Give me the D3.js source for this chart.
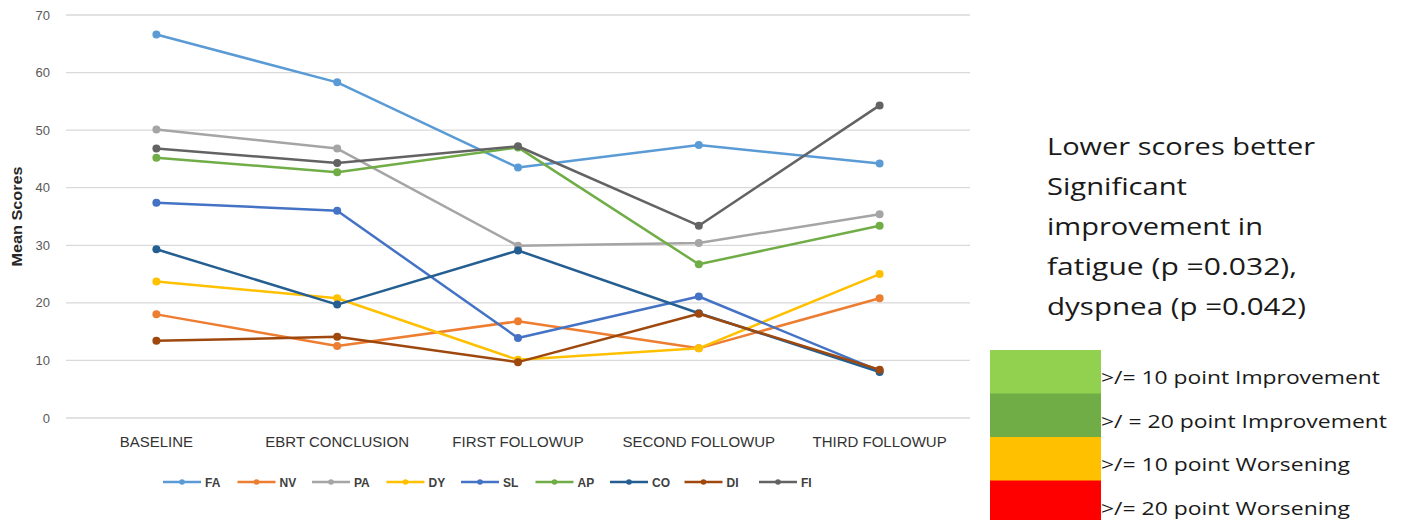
<!DOCTYPE html>
<html>
<head>
<meta charset="utf-8">
<script src="https://cdn.jsdelivr.net/npm/d3@7"></script>
<style>
  body { margin: 0; background: #fff; }
  svg { display: block; font-family: "Liberation Sans", Arial, sans-serif; }
</style>
</head>
<body>
<svg id="chart" width="1406" height="520"></svg>
<script>
const timepoints = ["BASELINE", "EBRT CONCLUSION", "FIRST FOLLOWUP", "SECOND FOLLOWUP", "THIRD FOLLOWUP"];
const seriesNames = ["FA", "NV", "PA", "DY", "SL", "AP", "CO", "DI", "FI"];
const seriesColors = ["#5B9BD5", "#ED7D31", "#A5A5A5", "#FFC000", "#4472C4", "#70AD47", "#255E91", "#9E480E", "#636363"];

const FA = [66.6, 58.3, 43.5, 47.4, 44.2];
const NV = [18.0, 12.5, 16.8, 12.1, 20.8];
const PA = [50.1, 46.8, 29.9, 30.4, 35.4];
const DY = [23.7, 20.8, 10.1, 12.1, 25.0];
const SL = [37.4, 36.0, 13.9, 21.1, 8.2];
const AP = [45.2, 42.7, 47.0, 26.7, 33.4];
const CO = [29.3, 19.7, 29.1, 18.2, 8.0];
const DI = [13.4, 14.1, 9.7, 18.1, 8.4];
const FI = [46.8, 44.3, 47.2, 33.4, 54.3];
const seriesValues = [FA, NV, PA, DY, SL, AP, CO, DI, FI];

const yTicks = [0, 10, 20, 30, 40, 50, 60, 70];

const noteLines = ["Lower scores better", "Significant", "improvement in", "fatigue (p =0.032),", "dyspnea (p =0.042)"];
const noteWidths = [268, 140, 216, 250, 259];
const keyLabels = [">/= 10 point Improvement", ">/ = 20 point Improvement", ">/= 10 point Worsening", ">/= 20 point Worsening"];
const keyColors = ["#92D050", "#70AD47", "#FFC000", "#FF0000"];
const keyWidths = [279, 286, 249, 249];

const svg = d3.select('#chart');

const plotLeft = 66, plotRight = 970, plotTop = 15, plotBottom = 418;

const x = d3.scaleBand()
  .domain(timepoints)
  .range([plotLeft, plotRight]);

const y = d3.scaleLinear()
  .domain([0, 70])
  .range([plotBottom, plotTop]);

// gridlines
svg.append('g')
  .selectAll('line')
  .data(yTicks)
  .join('line')
    .attr('x1', plotLeft)
    .attr('x2', plotRight)
    .attr('y1', d => y(d))
    .attr('y2', d => y(d))
    .attr('stroke', '#D9D9D9')
    .attr('stroke-width', 1.3);

// y axis labels
svg.append('g')
  .selectAll('text')
  .data(yTicks)
  .join('text')
    .attr('x', 50)
    .attr('y', d => y(d) + 4.5)
    .attr('text-anchor', 'end')
    .attr('font-size', 13)
    .attr('fill', '#595959')
    .text(d => d);

svg.append('text')
  .attr('transform', `translate(22,${(plotTop + plotBottom) / 2}) rotate(-90)`)
  .attr('text-anchor', 'middle')
  .attr('font-size', 14)
  .attr('font-weight', 'bold')
  .attr('fill', '#262626')
  .attr('textLength', 100)
  .attr('lengthAdjust', 'spacingAndGlyphs')
  .text('Mean Scores');

// category labels
svg.append('g')
  .selectAll('text')
  .data(timepoints)
  .join('text')
    .attr('x', d => x(d) + x.bandwidth() / 2)
    .attr('y', 447)
    .attr('text-anchor', 'middle')
    .attr('font-size', 15)
    .attr('fill', '#333')
    .text(d => d);

// series
const line = d3.line()
  .x((d, i) => x(timepoints[i]) + x.bandwidth() / 2)
  .y(d => y(d));

const seriesGroup = svg.append('g')
  .selectAll('g')
  .data(seriesValues)
  .join('g');

seriesGroup.append('path')
  .attr('d', d => line(d))
  .attr('fill', 'none')
  .attr('stroke', (d, i) => seriesColors[i])
  .attr('stroke-width', 2.5)
  .attr('stroke-linejoin', 'round');

seriesGroup.each(function(vals, si) {
  d3.select(this).selectAll('circle')
    .data(vals)
    .join('circle')
      .attr('cx', (d, i) => x(timepoints[i]) + x.bandwidth() / 2)
      .attr('cy', d => y(d))
      .attr('r', 4)
      .attr('fill', seriesColors[si]);
});

// legend
const legendStart = 163, legendStep = 74.5, legendY = 482;
const legend = svg.append('g')
  .selectAll('g')
  .data(seriesNames)
  .join('g')
    .attr('transform', (d, i) => `translate(${legendStart + i * legendStep},${legendY})`);

legend.append('line')
  .attr('x1', 0)
  .attr('x2', 38)
  .attr('stroke', (d, i) => seriesColors[i])
  .attr('stroke-width', 2.5);

legend.append('circle')
  .attr('cx', 19)
  .attr('r', 2.8)
  .attr('fill', (d, i) => seriesColors[i]);

legend.append('text')
  .attr('x', 42)
  .attr('y', 4.5)
  .attr('font-size', 12)
  .attr('font-weight', 'bold')
  .attr('fill', '#404040')
  .text(d => d);

// note text
svg.append('g')
  .selectAll('text')
  .data(noteLines)
  .join('text')
    .attr('x', 1047)
    .attr('y', (d, i) => 155 + i * 40)
    .attr('font-family', '"Open Sans", sans-serif')
    .attr('font-size', 24)
    .attr('fill', '#1a1a1a')
    .attr('textLength', (d, i) => noteWidths[i])
    .attr('lengthAdjust', 'spacingAndGlyphs')
    .text(d => d);

// colour key
const keyTop = 350, keyH = 43.5;
svg.append('g')
  .selectAll('rect')
  .data(keyColors)
  .join('rect')
    .attr('x', 990)
    .attr('y', (d, i) => keyTop + i * keyH)
    .attr('width', 111)
    .attr('height', keyH + 0.5)
    .attr('fill', d => d);

svg.append('g')
  .selectAll('text')
  .data(keyLabels)
  .join('text')
    .attr('x', 1101)
    .attr('y', (d, i) => keyTop + 34 + i * keyH)
    .attr('font-family', '"Open Sans", sans-serif')
    .attr('font-size', 19)
    .attr('fill', '#1a1a1a')
    .attr('textLength', (d, i) => keyWidths[i])
    .attr('lengthAdjust', 'spacingAndGlyphs')
    .text(d => d);
</script>
</body>
</html>
